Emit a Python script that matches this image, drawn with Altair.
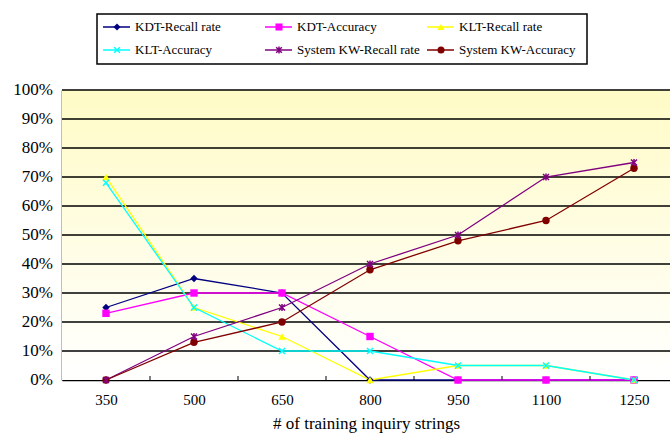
import altair as alt
import pandas as pd

categories = [350, 500, 650, 800, 950, 1100, 1250]
series_names = ["KDT-Recall rate", "KDT-Accuracy", "KLT-Recall rate",
                "KLT-Accuracy", "System KW-Recall rate", "System KW-Accuracy"]
kdt_recall = [0.25, 0.35, 0.30, 0.00, 0.00, 0.00, 0.00]
kdt_accuracy = [0.23, 0.30, 0.30, 0.15, 0.00, 0.00, 0.00]
klt_recall = [0.70, 0.25, 0.15, 0.00, 0.05, 0.05, 0.00]
klt_accuracy = [0.68, 0.25, 0.10, 0.10, 0.05, 0.05, 0.00]
kw_recall = [0.00, 0.15, 0.25, 0.40, 0.50, 0.70, 0.75]
kw_accuracy = [0.00, 0.13, 0.20, 0.38, 0.48, 0.55, 0.73]
y_ticks = [i / 10 for i in range(11)]
y_labels = [f"{i * 10}%" for i in range(11)]

colors = ["#000080", "#FF00FF", "#FFFF00", "#00FFFF", "#800080", "#800000"]
shapes = ["diamond", "square", "triangle-up",
          "M-1,-1L1,1M-1,1L1,-1",
          "M-1,-1L1,1M-1,1L1,-1M0,-1.2L0,1.2",
          "circle"]
filled = [True, True, True, False, False, True]

all_vals = [kdt_recall, kdt_accuracy, klt_recall, klt_accuracy, kw_recall, kw_accuracy]
rows = []
for name, vals, f in zip(series_names, all_vals, filled):
    for c, v in zip(categories, vals):
        rows.append({"series": name, "n": c, "value": v, "filled": f})
df = pd.DataFrame(rows)

W, H = 608, 290
step = categories[1] - categories[0]
px_per_unit = 88 / step
x_min = categories[0] - step / 2
x_max = x_min + W / px_per_unit

color_scale = alt.Scale(domain=series_names, range=colors)
shape_scale = alt.Scale(domain=series_names, range=shapes)
FONT = "Liberation Serif"
yscale = alt.Scale(domain=[0, 1], nice=False)
xscale = alt.Scale(domain=[x_min, x_max], nice=False, zero=False)

xaxis = alt.Axis(values=categories, format="d", title="# of training inquiry strings",
                 grid=False, ticks=False, labelFontSize=15, labelFont=FONT,
                 titleFont=FONT, titleFontSize=17, titleFontWeight="normal",
                 labelColor="black", titleColor="black", labelPadding=12,
                 titlePadding=8, domainColor="black", domainWidth=1.5,
                 labelFlush=False, labelOverlap=False)
yaxis = alt.Axis(title=None, grid=False, ticks=False, labels=False,
                 domainColor="black", domainWidth=1.5)

bg = alt.Chart(pd.DataFrame({"a": [0]})).mark_rect(
    color=alt.LinearGradient(
        gradient="linear",
        stops=[alt.GradientStop(color="#FFFBC6", offset=0),
               alt.GradientStop(color="#FFFFFF", offset=1)],
        x1=0, x2=0, y1=0, y2=1)
).encode(x=alt.value(0), x2=alt.value(W), y=alt.value(0), y2=alt.value(H))

tick_tbl = pd.DataFrame({"value": y_ticks, "label": y_labels})
grid = alt.Chart(tick_tbl[tick_tbl["value"] > 0]).mark_rule(
    color="black", strokeWidth=1.3
).encode(y=alt.Y("value:Q", scale=yscale, axis=yaxis),
         x=alt.value(0), x2=alt.value(W))

ylab = alt.Chart(tick_tbl).mark_text(
    align="right", baseline="middle", font=FONT, fontSize=17, color="black", clip=False
).encode(y=alt.Y("value:Q", scale=yscale), x=alt.value(-9), text="label:N")

lines = alt.Chart(df).mark_line(strokeWidth=1.3).encode(
    x=alt.X("n:Q", scale=xscale, axis=xaxis),
    y=alt.Y("value:Q", scale=yscale, axis=yaxis),
    color=alt.Color("series:N", scale=color_scale, legend=None),
    detail="series:N")

pts_filled = alt.Chart(df[df["filled"]]).mark_point(filled=True, size=55, opacity=1).encode(
    x="n:Q", y="value:Q",
    color=alt.Color("series:N", scale=color_scale, legend=None),
    shape=alt.Shape("series:N", scale=shape_scale, legend=None))
pts_stroked = alt.Chart(df[~df["filled"]]).mark_point(filled=False, size=36, strokeWidth=1.5, opacity=1).encode(
    x="n:Q", y="value:Q",
    color=alt.Color("series:N", scale=color_scale, legend=None),
    shape=alt.Shape("series:N", scale=shape_scale, legend=None))

mids = [(a + b) / 2 for a, b in zip(categories, categories[1:])]
tick_df = pd.DataFrame({"n": mids})
xticks = alt.Chart(tick_df).mark_rule(color="black", strokeWidth=1).encode(
    x="n:Q", y=alt.value(H), y2=alt.value(H - 4))

# manual legend
leg_rows = []
for i, name in enumerate(series_names):
    col, row = i % 3, i // 3
    x0 = 41 + 162 * col
    leg_rows.append({"series": name, "x0": x0, "x1": x0 + 27, "mx": x0 + 14,
                     "tx": x0 + 32, "ly": -63 + 23 * row, "filled": filled[i]})
leg_df = pd.DataFrame(leg_rows)

leg_box = alt.Chart(pd.DataFrame({"a": [0]})).mark_rect(
    fill="white", stroke="black", strokeWidth=1.5, clip=False
).encode(x=alt.value(35), x2=alt.value(525), y=alt.value(-76), y2=alt.value(-26))

leg_lines = alt.Chart(leg_df).mark_rule(strokeWidth=1.5, clip=False).encode(
    x=alt.X("x0:Q", scale=None), x2="x1:Q", y=alt.Y("ly:Q", scale=None),
    color=alt.Color("series:N", scale=color_scale, legend=None))
leg_pf = alt.Chart(leg_df[leg_df["filled"]]).mark_point(filled=True, size=50, opacity=1, clip=False).encode(
    x=alt.X("mx:Q", scale=None), y=alt.Y("ly:Q", scale=None),
    color=alt.Color("series:N", scale=color_scale, legend=None),
    shape=alt.Shape("series:N", scale=shape_scale, legend=None))
leg_ps = alt.Chart(leg_df[~leg_df["filled"]]).mark_point(filled=False, size=32, strokeWidth=1.5, opacity=1, clip=False).encode(
    x=alt.X("mx:Q", scale=None), y=alt.Y("ly:Q", scale=None),
    color=alt.Color("series:N", scale=color_scale, legend=None),
    shape=alt.Shape("series:N", scale=shape_scale, legend=None))
leg_text = alt.Chart(leg_df).mark_text(align="left", baseline="middle", font=FONT,
                                       fontSize=13, color="black", clip=False).encode(
    x=alt.X("tx:Q", scale=None), y=alt.Y("ly:Q", scale=None), text="series:N")

chart = alt.layer(bg, grid, lines, pts_filled, pts_stroked, xticks, ylab,
                  leg_box, leg_lines, leg_pf, leg_ps, leg_text).properties(
    width=W, height=H,
    autosize=alt.AutoSizeParams(type="none"),
    padding={"left": 62, "top": 90, "right": 0, "bottom": 55},
    background="white"
).configure_view(stroke=None)

chart.save("out.html", embed_options={"renderer": "svg", "actions": False})
